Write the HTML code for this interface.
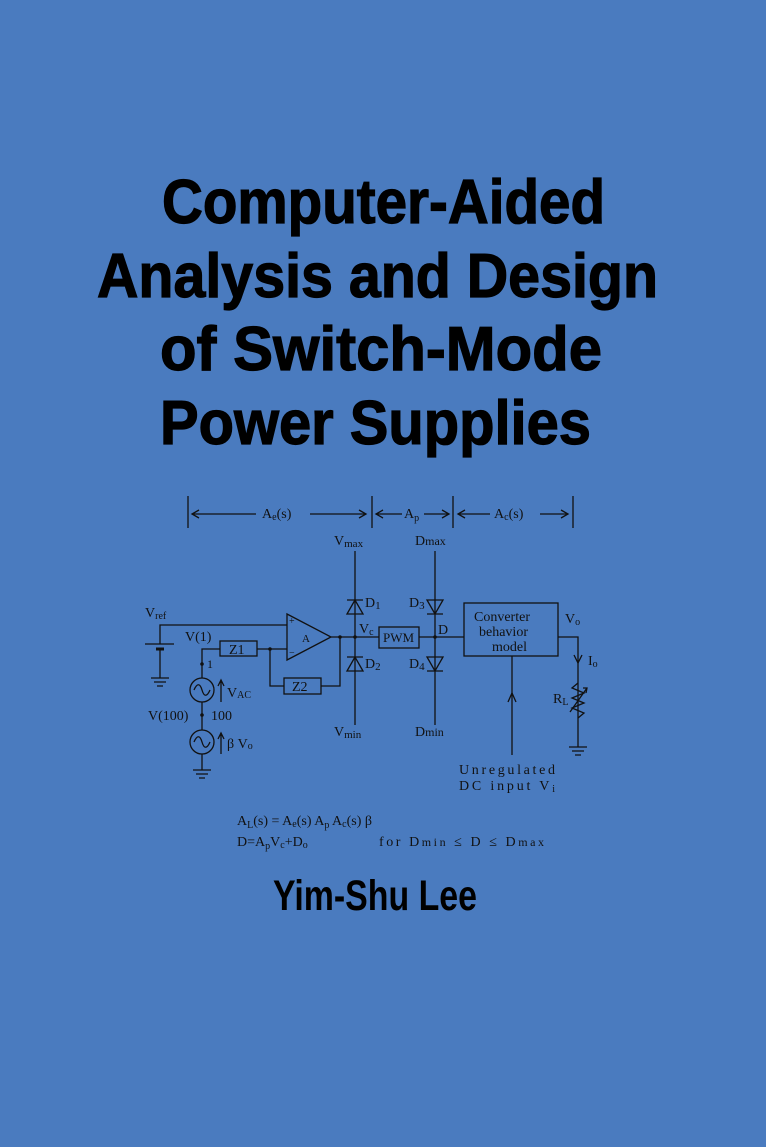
<!DOCTYPE html>
<html><head><meta charset="utf-8"><style>
html,body{margin:0;padding:0;background:#4a7bbf;}
svg{display:block}
.t{font-family:"Liberation Sans",sans-serif;font-weight:bold;fill:#000}
.s{font-family:"Liberation Serif",serif;fill:#111}
</style></head><body>
<svg width="766" height="1147" viewBox="0 0 766 1147" xmlns="http://www.w3.org/2000/svg">
<rect width="766" height="1147" fill="#4a7bbf"/>
<g class="t" font-size="62" stroke="#000" stroke-width="1.2">
<text x="162" y="223" textLength="443" lengthAdjust="spacingAndGlyphs">Computer-Aided</text>
<text x="97" y="297" textLength="561" lengthAdjust="spacingAndGlyphs">Analysis and Design</text>
<text x="160" y="370" textLength="442" lengthAdjust="spacingAndGlyphs">of Switch-Mode</text>
<text x="160" y="444" textLength="431" lengthAdjust="spacingAndGlyphs">Power Supplies</text>
</g>
<text class="t" x="273" y="910" font-size="43" textLength="204" lengthAdjust="spacingAndGlyphs">Yim-Shu Lee</text>

<g stroke="#111" stroke-width="1.3" fill="none">
<line x1="188" y1="496" x2="188" y2="528"/><line x1="372" y1="496" x2="372" y2="528"/>
<line x1="453" y1="496" x2="453" y2="528"/><line x1="573" y1="496" x2="573" y2="528"/>
<line x1="192" y1="514" x2="256" y2="514"/><line x1="310" y1="514" x2="366" y2="514"/>
<line x1="376" y1="514" x2="402" y2="514"/><line x1="424" y1="514" x2="449" y2="514"/>
<line x1="458" y1="514" x2="490" y2="514"/><line x1="540" y1="514" x2="568" y2="514"/>
<path d="M199 510 L192 514 L199 518 M359 510 L366 514 L359 518 M383 510 L376 514 L383 518 M442 510 L449 514 L442 518 M465 510 L458 514 L465 518 M561 510 L568 514 L561 518"/>
<line x1="355" y1="551" x2="355" y2="725"/>
<line x1="435" y1="551" x2="435" y2="725"/>
<path d="M347 600 L363 600 M355 600 L347 614 L363 614 Z M347 657 L363 657 M355 657 L347 671 L363 671 Z"/>
<path d="M427 614 L443 614 M435 614 L427 600 L443 600 Z M427 671 L443 671 M435 671 L427 657 L443 657 Z"/>
<line x1="331" y1="637" x2="379" y2="637"/>
<rect x="379" y="627" width="40" height="21"/>
<line x1="419" y1="637" x2="464" y2="637"/>
<rect x="464" y="603" width="94" height="53"/>
<path d="M287 614 L331 637 L287 660 Z"/>
<path d="M160 644 L160 625 L287 625"/>
<line x1="145" y1="644" x2="174" y2="644"/>
<line x1="156" y1="649" x2="164" y2="649" stroke-width="3"/>
<line x1="160" y1="650" x2="160" y2="678"/>
<path d="M151 678 L169 678 M154 682 L166 682 M157 686 L163 686"/>
<path d="M202 678 L202 649 L220 649"/>
<rect x="220" y="641" width="37" height="15"/>
<line x1="257" y1="649" x2="287" y2="649"/>
<path d="M270 649 L270 686 L284 686"/>
<rect x="284" y="678" width="37" height="16"/>
<path d="M321 686 L340 686 L340 637"/>
<circle cx="202" cy="690" r="12"/>
<path d="M194 690 C197 683 200 683 202 690 C204 697 207 697 210 690"/>
<line x1="202" y1="702" x2="202" y2="730"/>
<circle cx="202" cy="742" r="12"/>
<path d="M194 742 C197 735 200 735 202 742 C204 749 207 749 210 742"/>
<line x1="202" y1="754" x2="202" y2="770"/>
<path d="M193 770 L211 770 M196 774 L208 774 M199 778 L205 778"/>
<path d="M221 702 L221 680 M218 686 L221 680 L224 686"/>
<path d="M221 754 L221 733 M218 739 L221 733 L224 739"/>
<path d="M558 637 L578 637 L578 747"/>
<path d="M574 655 L578 663 L582 655"/>
<path d="M578 683 L572 688 L584 693 L572 698 L584 703 L572 708 L584 713 L578 718"/>
<path d="M570 712 L587 688 M583 688 L587 688 L586 693"/>
<path d="M569 747 L587 747 M572 751 L584 751 M575 755 L581 755"/>
<line x1="512" y1="656" x2="512" y2="755"/>
<path d="M508 702 L512 693 L516 702"/>
</g>
<g fill="#111">
<circle cx="355" cy="637" r="1.8"/><circle cx="340" cy="637" r="1.8"/><circle cx="435" cy="637" r="1.8"/>
<circle cx="270" cy="649" r="1.8"/><circle cx="202" cy="664" r="1.8"/><circle cx="202" cy="715" r="1.8"/>
</g>
<g class="s" font-size="14">
<text x="262" y="518">A<tspan font-size="10" dy="2">e</tspan><tspan dy="-2">(s)</tspan></text>
<text x="404" y="518">A<tspan font-size="10" dy="3">p</tspan></text>
<text x="494" y="518">A<tspan font-size="10" dy="2">c</tspan><tspan dy="-2">(s)</tspan></text>
<text x="334" y="545">V<tspan font-size="11" dy="2">max</tspan></text><text x="415" y="545">D<tspan font-size="12">max</tspan></text>
<text x="334" y="736">V<tspan font-size="11" dy="2">min</tspan></text><text x="415" y="736">D<tspan font-size="12">min</tspan></text>
<text x="365" y="607">D<tspan font-size="11" dy="2">1</tspan></text><text x="365" y="668">D<tspan font-size="11" dy="2">2</tspan></text>
<text x="409" y="607">D<tspan font-size="11" dy="2">3</tspan></text><text x="409" y="668">D<tspan font-size="11" dy="2">4</tspan></text>
<text x="359" y="633">V<tspan font-size="10" dy="2">c</tspan></text><text x="438" y="634">D</text>
<text x="383" y="642" font-size="13">PWM</text>
<text x="474" y="621">Converter</text>
<text x="479" y="636">behavior</text>
<text x="492" y="651">model</text>
<text x="565" y="623">V<tspan font-size="10" dy="2">o</tspan></text><text x="588" y="665">I<tspan font-size="10" dy="2">o</tspan></text>
<text x="553" y="703">R<tspan font-size="10" dy="2">L</tspan></text>
<text x="302" y="642" font-size="11">A</text>
<text x="289" y="624" font-size="10">+</text><text x="289" y="656" font-size="10">−</text>
<text x="145" y="617">V<tspan font-size="10" dy="2">ref</tspan></text>
<text x="185" y="641">V(1)</text>
<text x="229" y="654">Z1</text><text x="292" y="691">Z2</text>
<text x="207" y="668" font-size="12">1</text>
<text x="227" y="697">V<tspan font-size="10" dy="1">AC</tspan></text>
<text x="148" y="720">V(100)</text><text x="211" y="720">100</text>
<text x="227" y="748">β V<tspan font-size="10" dy="1">o</tspan></text>
<text x="459" y="774" textLength="96" lengthAdjust="spacing">Unregulated</text>
<text x="459" y="790" textLength="96" lengthAdjust="spacing">DC input V<tspan font-size="10" dy="2">i</tspan></text>
<text x="237" y="825">A<tspan font-size="10" dy="3">L</tspan><tspan dy="-3">(s) = A</tspan><tspan font-size="10" dy="2">e</tspan><tspan dy="-2">(s) A</tspan><tspan font-size="10" dy="3">p</tspan><tspan dy="-3"> A</tspan><tspan font-size="10" dy="2">c</tspan><tspan dy="-2">(s) β</tspan></text>
<text x="237" y="846">D=A<tspan font-size="10" dy="3">p</tspan><tspan dy="-3">V</tspan><tspan font-size="10" dy="2">c</tspan><tspan dy="-2">+D</tspan><tspan font-size="10" dy="2">o</tspan></text>
<text x="379" y="846" textLength="165" lengthAdjust="spacing">for  D<tspan font-size="12">min</tspan> ≤ D  ≤ D<tspan font-size="12">max</tspan></text>
</g>
</svg>
</body></html>
